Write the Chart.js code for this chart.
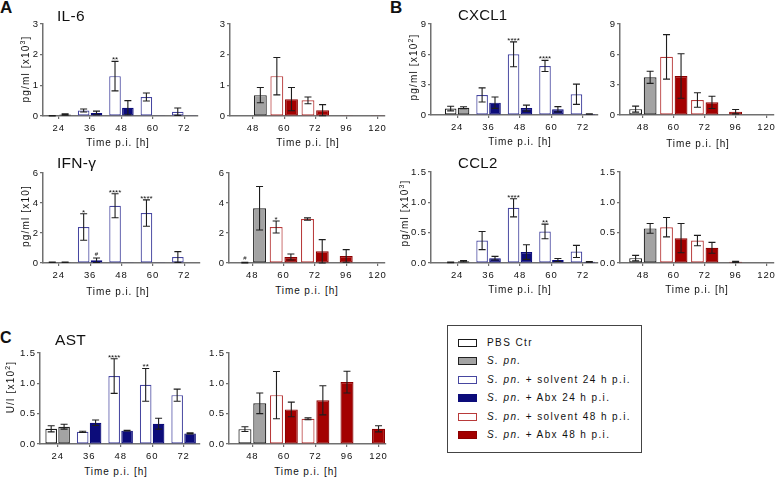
<!DOCTYPE html>
<html>
<head>
<meta charset="utf-8">
<script src="https://cdn.jsdelivr.net/npm/chart.js@4.4.1/dist/chart.umd.min.js"></script>
<style>
  body { margin: 0; width: 778px; height: 477px; position: relative; overflow: hidden; background: #fff;
         font-family: Arial, "Liberation Sans", Helvetica, sans-serif; color: #111; }
  canvas { position: absolute; }
  .t { position: absolute; white-space: nowrap; line-height: 1; }
  .t sup { font-size: 7px; line-height: 0; }
  .legend { position: absolute; left: 447px; top: 325px; width: 193px; height: 126px; border: 1px solid #444; }
  .sw { position: absolute; width: 17px; height: 6px; }
</style>
</head>
<body>
<script>
// x categories (hours p.i.)
const leftHours = ['24', '36', '48', '60', '72'];
const rightHours = ['48', '60', '72', '96', '120'];
const seriesNames = ['PBS Ctr', 'S. pn.', 'S. pn. + solvent 24 h p.i.', 'S. pn. + Abx 24 h p.i.',
                     'S. pn. + solvent 48 h p.i.', 'S. pn. + Abx 48 h p.i.'];

// IL-6, pg/ml x10^3
const il6L_pbs = [0.01, null, null, null, null];
const il6L_pbsSd = [0.005, null, null, null, null];
const il6L_spn = [0.05, null, null, null, null];
const il6L_spnSd = [0.02, null, null, null, null];
const il6L_sol24 = [null, 0.18, 1.30, 0.62, 0.14];
const il6L_sol24Sd = [null, 0.05, 0.48, 0.13, 0.12];
const il6L_sol24Sig = ['', '', '**', '', ''];
const il6L_abx24 = [null, 0.10, 0.27, 0.01, 0.01];
const il6L_abx24Sd = [null, 0.06, 0.23, 0, 0];
const il6R_pbs = [0, null, null, null, null];
const il6R_pbsSd = [0, null, null, null, null];
const il6R_spn = [0.68, null, null, null, null];
const il6R_spnSd = [0.25, null, null, null, null];
const il6R_sol48 = [null, 1.30, 0.51, null, null];
const il6R_sol48Sd = [null, 0.61, 0.11, null, null];
const il6R_abx48 = [null, 0.55, 0.19, 0.01, 0.01];
const il6R_abx48Sd = [null, 0.38, 0.18, 0, 0];

// CXCL1, pg/ml x10^2
const cxL_pbs = [0.64, null, null, null, null];
const cxL_pbsSd = [0.23, null, null, null, null];
const cxL_spn = [0.72, null, null, null, null];
const cxL_spnSd = [0.10, null, null, null, null];
const cxL_sol24 = [null, 1.98, 6.00, 4.85, 2.05];
const cxL_sol24Sd = [null, 0.70, 1.23, 0.55, 1.00];
const cxL_sol24Sig = ['', '', '****', '****', ''];
const cxL_abx24 = [null, 1.22, 0.68, 0.56, 0.10];
const cxL_abx24Sd = [null, 0.56, 0.30, 0.27, 0.03];
const cxR_pbs = [0.58, null, null, null, null];
const cxR_pbsSd = [0.30, null, null, null, null];
const cxR_spn = [3.73, null, null, null, null];
const cxR_spnSd = [0.60, null, null, null, null];
const cxR_sol48 = [null, 5.75, 1.48, null, null];
const cxR_sol48Sd = [null, 2.20, 0.72, null, null];
const cxR_abx48 = [null, 3.86, 1.25, 0.33, 0];
const cxR_abx48Sd = [null, 2.20, 0.60, 0.22, 0];

// IFN-gamma, pg/ml x10
const ifnL_pbs = [0.05, null, null, null, null];
const ifnL_pbsSd = [0.01, null, null, null, null];
const ifnL_spn = [0.05, null, null, null, null];
const ifnL_spnSd = [0.01, null, null, null, null];
const ifnL_sol24 = [null, 2.40, 3.82, 3.33, 0.40];
const ifnL_sol24Sd = [null, 0.88, 0.80, 0.88, 0.36];
const ifnL_sol24Sig = ['', '*', '****', '****', ''];
const ifnL_abx24 = [null, 0.18, 0.05, 0.05, 0];
const ifnL_abx24Sd = [null, 0.15, 0, 0, 0];
const ifnL_abx24Sig = ['', '#', '', '', ''];
const ifnR_pbs = [0.03, null, null, null, null];
const ifnR_pbsSd = [0.02, null, null, null, null];
const ifnR_pbsSig = ['#', '', '', '', ''];
const ifnR_spn = [3.65, null, null, null, null];
const ifnR_spnSd = [1.45, null, null, null, null];
const ifnR_sol48 = [null, 2.40, 2.93, null, null];
const ifnR_sol48Sd = [null, 0.40, 0.08, null, null];
const ifnR_sol48Sig = ['', '*', '', '', ''];
const ifnR_abx48 = [null, 0.40, 0.78, 0.47, 0];
const ifnR_abx48Sd = [null, 0.20, 0.78, 0.42, 0];

// CCL2, pg/ml x10^3
const ccL_pbs = [0.01, null, null, null, null];
const ccL_pbsSd = [0.005, null, null, null, null];
const ccL_spn = [0.03, null, null, null, null];
const ccL_spnSd = [0.01, null, null, null, null];
const ccL_sol24 = [null, 0.37, 0.91, 0.52, 0.19];
const ccL_sol24Sd = [null, 0.15, 0.15, 0.12, 0.10];
const ccL_sol24Sig = ['', '', '****', '**', ''];
const ccL_abx24 = [null, 0.08, 0.18, 0.05, 0.02];
const ccL_abx24Sd = [null, 0.03, 0.12, 0.025, 0.005];
const ccR_pbs = [0.08, null, null, null, null];
const ccR_pbsSd = [0.045, null, null, null, null];
const ccR_spn = [0.57, null, null, null, null];
const ccR_spnSd = [0.08, null, null, null, null];
const ccR_sol48 = [null, 0.59, 0.37, null, null];
const ccR_sol48Sd = [null, 0.16, 0.085, null, null];
const ccR_abx48 = [null, 0.41, 0.25, 0.02, 0];
const ccR_abx48Sd = [null, 0.24, 0.09, 0.01, 0];

// AST, U/l x10^2
const astL_pbs = [0.25, null, null, null, null];
const astL_pbsSd = [0.05, null, null, null, null];
const astL_spn = [0.285, null, null, null, null];
const astL_spnSd = [0.04, null, null, null, null];
const astL_sol24 = [null, 0.20, 1.12, 0.975, 0.805];
const astL_sol24Sd = [null, 0.01, 0.285, 0.27, 0.10];
const astL_sol24Sig = ['', '', '****', '**', ''];
const astL_abx24 = [null, 0.35, 0.22, 0.335, 0.175];
const astL_abx24Sd = [null, 0.045, 0.005, 0.09, 0.008];
const astR_pbs = [0.245, null, null, null, null];
const astR_pbsSd = [0.04, null, null, null, null];
const astR_spn = [0.67, null, null, null, null];
const astR_spnSd = [0.17, null, null, null, null];
const astR_sol48 = [null, 0.805, 0.415, null, null];
const astR_sol48Sd = [null, 0.39, 0.015, null, null];
const astR_abx48 = [null, 0.57, 0.72, 1.02, 0.25];
const astR_abx48Sd = [null, 0.12, 0.24, 0.18, 0.05];

const FONT = 'Arial, "Liberation Sans", Helvetica, sans-serif';
const INK = '#111';
const AXIS = '#707070';
const YW = 26, PT = 8, XH = 22;

const ST = {
  pbs:   { fill: '#ffffff', line: '#1a1a1a' },
  spn:   { fill: '#a3a3a3', line: '#222222' },
  sol24: { fill: '#ffffff', line: '#4646a0' },
  abx24: { fill: '#0c0c7a', line: '#0c0c7a' },
  sol48: { fill: '#ffffff', line: '#b83a3a' },
  abx48: { fill: '#a30000', line: '#8c0000' }
};

// error bars + significance marks
const errorBars = {
  id: 'errorBars',
  afterDatasetsDraw(chart) {
    const { ctx } = chart;
    const y = chart.scales.y;
    ctx.save();
    ctx.letterSpacing = '0px';
    chart.data.datasets.forEach((d, di) => {
      chart.getDatasetMeta(di).data.forEach((bar, i) => {
        const v = d.data[i].y;
        if (v == null) return;
        const e = (d.sd && d.sd[i]) || 0;
        const top = y.getPixelForValue(v + e);
        if (e > 0) {
          const bot = y.getPixelForValue(Math.max(0, v - e));
          ctx.strokeStyle = '#1e1e1e';
          ctx.lineWidth = 1.1;
          ctx.beginPath();
          ctx.moveTo(bar.x, top); ctx.lineTo(bar.x, bot);
          ctx.moveTo(bar.x - 3.5, top); ctx.lineTo(bar.x + 3.5, top);
          ctx.moveTo(bar.x - 3.5, bot); ctx.lineTo(bar.x + 3.5, bot);
          ctx.stroke();
        }
        const s = d.sig && d.sig[i];
        if (s) {
          ctx.fillStyle = INK;
          ctx.textAlign = 'center';
          ctx.textBaseline = 'alphabetic';
          ctx.font = (s[0] === '*' ? 8 : 6) + 'px ' + FONT;
          ctx.fillText(s, bar.x, s[0] === '*' ? top + 1 : top - 2);
        }
      });
    });
    ctx.restore();
  }
};

const spacing = { id: 'spacing', beforeDraw(chart) { chart.ctx.letterSpacing = '0.9px'; } };

function panel(box, hours, xRange, yMax, yStep, fmt, sets, wide) {
  const [ax, end, top, bottom] = box;
  const c = document.createElement('canvas');
  c.width = end - ax + YW + 1;
  c.height = bottom - top + PT + XH;
  c.style.left = (ax - YW) + 'px';
  c.style.top = (top - PT) + 'px';
  document.body.appendChild(c);
  new Chart(c, {
    type: 'bar',
    data: {
      datasets: sets.map(([vals, sd, sig, st]) => ({
        data: vals.map((v, i) => ({ x: i, y: v })),
        sd, sig,
        backgroundColor: st.fill,
        borderColor: st.line,
        borderWidth: 1.2,
        borderSkipped: false,
        skipNull: true,
        categoryPercentage: wide ? 0.94 : 0.82,
        barPercentage: wide ? 0.88 : 0.9,
        maxBarThickness: wide ? 13 : 11.6
      }))
    },
    options: {
      responsive: false,
      animation: false,
      events: [],
      layout: { padding: { top: PT, right: 1, bottom: 0, left: 0 } },
      plugins: { legend: { display: false }, tooltip: { enabled: false } },
      scales: {
        x: {
          type: 'linear', min: xRange[0], max: xRange[1], offset: false,
          afterBuildTicks: s => { s.ticks = hours.map((h, i) => ({ value: i })); },
          afterFit: s => { s.height = XH; },
          ticks: { autoSkip: false, maxRotation: 0, padding: 3.5, color: INK,
                   font: { size: 9.5, family: FONT }, callback: v => hours[v] },
          grid: { offset: false, drawOnChartArea: false, drawTicks: true, tickLength: 3, color: AXIS, lineWidth: 1.2 },
          border: { color: AXIS, width: 1.5 }
        },
        y: {
          min: 0, max: yMax,
          afterFit: s => { s.width = YW; },
          ticks: { stepSize: yStep, padding: 1, color: INK, font: { size: 9.5, family: FONT }, callback: fmt },
          grid: { drawOnChartArea: false, drawTicks: true, tickLength: 3, color: AXIS, lineWidth: 1.2 },
          border: { color: AXIS, width: 1.5 }
        }
      }
    },
    plugins: [errorBars, spacing]
  });
}

const int = v => String(v);
const dec = v => v.toFixed(1);
const RX = [-0.74, 4.23];

panel([43, 198, 24, 116], leftHours, [-0.5, 4.44], 3, 1, int, [
  [il6L_pbs, il6L_pbsSd, null, ST.pbs], [il6L_spn, il6L_spnSd, null, ST.spn],
  [il6L_sol24, il6L_sol24Sd, il6L_sol24Sig, ST.sol24], [il6L_abx24, il6L_abx24Sd, null, ST.abx24]], false);
panel([230, 388, 24, 116], rightHours, RX, 3, 1, int, [
  [il6R_pbs, il6R_pbsSd, null, ST.pbs], [il6R_spn, il6R_spnSd, null, ST.spn],
  [il6R_sol48, il6R_sol48Sd, null, ST.sol48], [il6R_abx48, il6R_abx48Sd, null, ST.abx48]], true);
panel([431, 598, 24, 115], leftHours, [-0.83, 4.48], 9, 3, int, [
  [cxL_pbs, cxL_pbsSd, null, ST.pbs], [cxL_spn, cxL_spnSd, null, ST.spn],
  [cxL_sol24, cxL_sol24Sd, cxL_sol24Sig, ST.sol24], [cxL_abx24, cxL_abx24Sd, null, ST.abx24]], false);
panel([620, 777, 24, 115], rightHours, RX, 9, 3, int, [
  [cxR_pbs, cxR_pbsSd, null, ST.pbs], [cxR_spn, cxR_spnSd, null, ST.spn],
  [cxR_sol48, cxR_sol48Sd, null, ST.sol48], [cxR_abx48, cxR_abx48Sd, null, ST.abx48]], true);
panel([43, 200, 173, 263], leftHours, [-0.5, 4.5], 6, 2, int, [
  [ifnL_pbs, ifnL_pbsSd, null, ST.pbs], [ifnL_spn, ifnL_spnSd, null, ST.spn],
  [ifnL_sol24, ifnL_sol24Sd, ifnL_sol24Sig, ST.sol24], [ifnL_abx24, ifnL_abx24Sd, ifnL_abx24Sig, ST.abx24]], false);
panel([229, 388, 173, 263], rightHours, RX, 6, 2, int, [
  [ifnR_pbs, ifnR_pbsSd, ifnR_pbsSig, ST.pbs], [ifnR_spn, ifnR_spnSd, null, ST.spn],
  [ifnR_sol48, ifnR_sol48Sd, ifnR_sol48Sig, ST.sol48], [ifnR_abx48, ifnR_abx48Sd, null, ST.abx48]], true);
panel([431, 598, 172, 263], leftHours, [-0.83, 4.48], 1.5, 0.5, dec, [
  [ccL_pbs, ccL_pbsSd, null, ST.pbs], [ccL_spn, ccL_spnSd, null, ST.spn],
  [ccL_sol24, ccL_sol24Sd, ccL_sol24Sig, ST.sol24], [ccL_abx24, ccL_abx24Sd, null, ST.abx24]], false);
panel([620, 777, 172, 263], rightHours, RX, 1.5, 0.5, dec, [
  [ccR_pbs, ccR_pbsSd, null, ST.pbs], [ccR_spn, ccR_spnSd, null, ST.spn],
  [ccR_sol48, ccR_sol48Sd, null, ST.sol48], [ccR_abx48, ccR_abx48Sd, null, ST.abx48]], true);
panel([40, 200, 353, 444], leftHours, [-0.56, 4.52], 1.5, 0.5, dec, [
  [astL_pbs, astL_pbsSd, null, ST.pbs], [astL_spn, astL_spnSd, null, ST.spn],
  [astL_sol24, astL_sol24Sd, astL_sol24Sig, ST.sol24], [astL_abx24, astL_abx24Sd, null, ST.abx24]], false);
panel([229, 389, 353, 444], rightHours, RX, 1.5, 0.5, dec, [
  [astR_pbs, astR_pbsSd, null, ST.pbs], [astR_spn, astR_spnSd, null, ST.spn],
  [astR_sol48, astR_sol48Sd, null, ST.sol48], [astR_abx48, astR_abx48Sd, null, ST.abx48]], true);

// text: titles, axis titles
function text(html, x, base, size, o = {}) {
  const el = document.createElement('div');
  el.className = 't';
  el.innerHTML = html;
  el.style.fontSize = size + 'px';
  el.style.left = x + 'px';
  el.style.top = (base - 0.8465 * size) + 'px';
  if (o.bold) el.style.fontWeight = 'bold';
  if (o.ls) el.style.letterSpacing = o.ls + 'px';
  if (o.center) el.style.transform = 'translateX(-50%)';
  document.body.appendChild(el);
  return el;
}
function vtext(html, cx, cy, size, ls) {
  const el = document.createElement('div');
  el.className = 't';
  el.innerHTML = html;
  el.style.fontSize = size + 'px';
  el.style.letterSpacing = ls + 'px';
  el.style.left = cx + 'px';
  el.style.top = cy + 'px';
  el.style.transform = 'translate(-50%, -50%) rotate(-90deg)';
  document.body.appendChild(el);
}

text('A', 0, 13, 17, { bold: true });
text('B', 390, 13, 17, { bold: true });
text('C', 0, 344, 16, { bold: true });

text('IL-6', 57, 21, 15.5, { ls: 0.3 });
text('CXCL1', 458, 20, 15, { ls: 0.2 });
text('IFN-γ', 57, 168, 15.5, { ls: 0.3 });
text('CCL2', 458, 168, 15, { ls: 0.3 });
text('AST', 55, 345, 15.5, { ls: 0.3 });

[[118, 146.5], [308, 146.5], [520, 145.5], [698, 147], [118, 295], [307, 294.5],
 [520, 293], [697, 293.5], [116, 475], [306, 475]].forEach(([x, b]) =>
  text('Time p.i. [h]', x, b, 10, { ls: 0.9, center: true }));

vtext('pg/ml [x10<sup>3</sup>]', 26, 69, 10, 1.2);
vtext('pg/ml [x10]', 26, 216, 10, 1.2);
vtext('pg/ml [x10<sup>2</sup>]', 414, 67, 10, 1.2);
vtext('pg/ml [x10<sup>3</sup>]', 405, 213, 10, 1.2);
vtext('U/l [x10<sup>2</sup>]', 11, 387, 10, 1.2);

// legend
const lg = document.createElement('div');
lg.className = 'legend';
document.body.appendChild(lg);
const legendStyles = [ST.pbs, ST.spn, ST.sol24, ST.abx24, ST.sol48, ST.abx48];
seriesNames.forEach((name, i) => {
  const cy = 342.5 + i * 18.5;
  const sw = document.createElement('div');
  sw.className = 'sw';
  sw.style.left = '458px';
  sw.style.top = (cy - 4) + 'px';
  sw.style.background = legendStyles[i].fill;
  sw.style.border = '1.2px solid ' + legendStyles[i].line;
  document.body.appendChild(sw);
  text(name.replace('S. pn.', '<i>S. pn.</i>'), 487, cy + 3.6, 10, { ls: 1.4 });
});
</script>
</body>
</html>
